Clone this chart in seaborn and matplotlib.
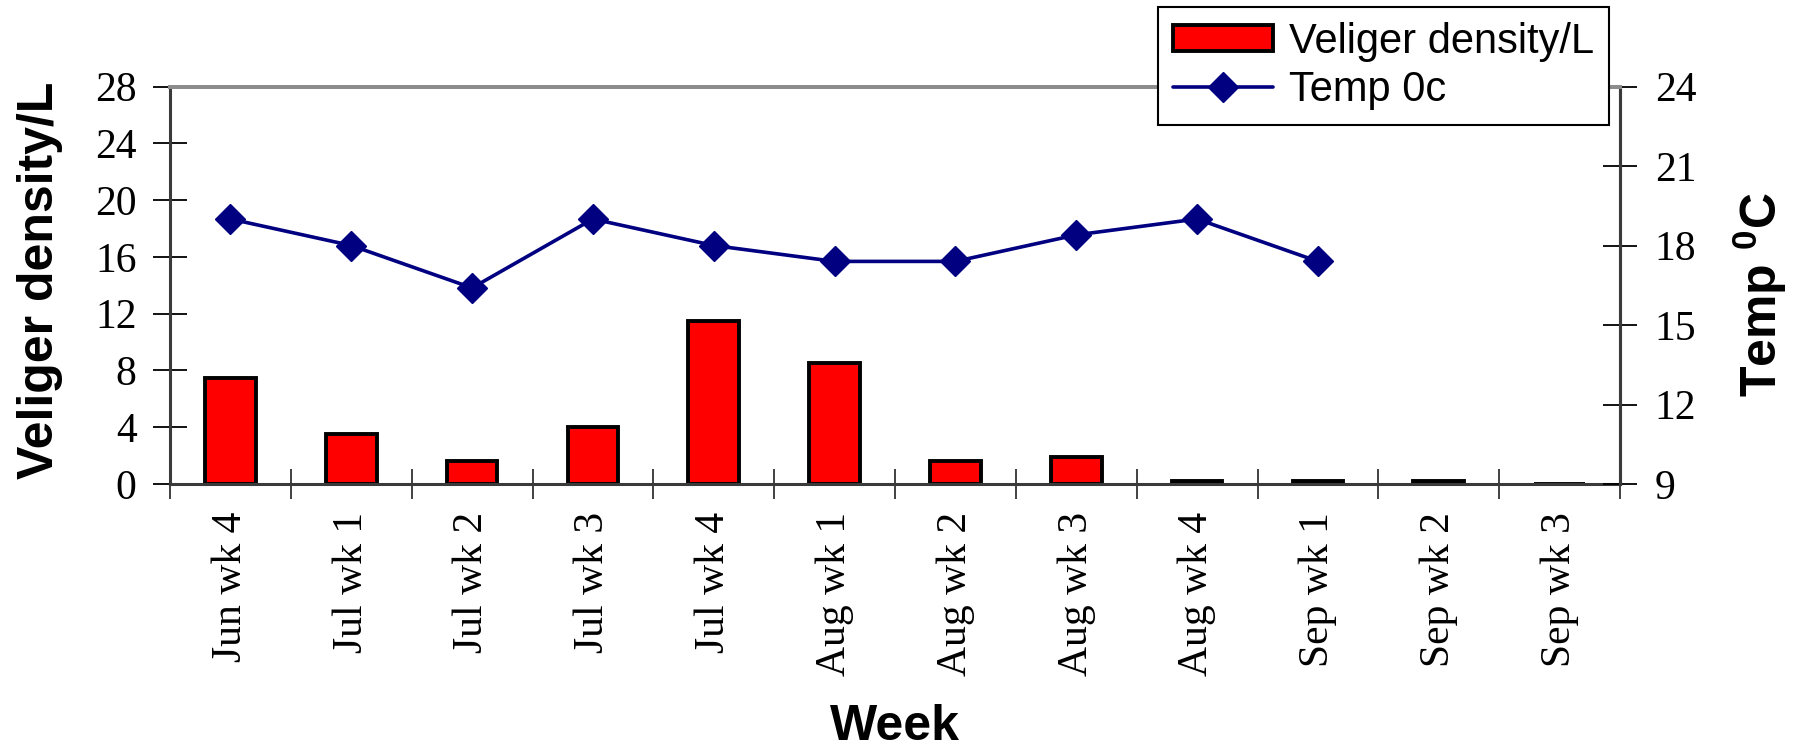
import numpy as np
import pandas as pd
import matplotlib
matplotlib.use("Agg")
import matplotlib.pyplot as plt
from matplotlib.ticker import FixedLocator
import seaborn as sns

# Weekly sampling: veliger density (bars, left axis) and water temperature (line, right axis)
weeks = ["Jun wk 4", "Jul wk 1", "Jul wk 2", "Jul wk 3", "Jul wk 4", "Aug wk 1",
         "Aug wk 2", "Aug wk 3", "Aug wk 4", "Sep wk 1", "Sep wk 2", "Sep wk 3"]
density = [7.5, 3.5, 1.6, 4.0, 11.5, 8.5, 1.6, 1.9, 0.2, 0.2, 0.2, 0.0]
temp = [19.0, 18.0, 16.4, 19.0, 18.0, 17.4, 17.4, 18.4, 19.0, 17.4, np.nan, np.nan]

density_ticks = [0, 4, 8, 12, 16, 20, 24, 28]
temp_ticks = [9, 12, 15, 18, 21, 24]

sns.set_theme(style="white")
plt.rcParams["font.family"] = ["Liberation Serif", "DejaVu Serif"]
plt.rcParams["mathtext.fontset"] = "custom"
plt.rcParams["mathtext.rm"] = "Liberation Sans:bold"
plt.rcParams["mathtext.bf"] = "Liberation Sans:bold"
for key in ("text.color", "axes.labelcolor", "xtick.color", "ytick.color"):
    plt.rcParams[key] = "black"

W, H = 1801, 749
fig = plt.figure(figsize=(W / 100, H / 100), dpi=100)
ax = fig.add_axes([170 / W, 1 - 484 / H, 1450 / W, 397.5 / H])

df = pd.DataFrame({"week": weeks, "density": density, "temp": temp})

sns.barplot(data=df, x="week", y="density", order=weeks, color="#FF0000",
            saturation=1, edgecolor="black", linewidth=2.8, width=0.42,
            label="Veliger density/L", ax=ax, zorder=2)
if ax.get_legend() is not None:
    ax.get_legend().remove()
ax.set_xlim(-0.5, len(weeks) - 0.5)
ax.set_ylim(0, 28)
ax.set_yticks(density_ticks)

ax2 = ax.twinx()
sns.lineplot(x=np.arange(len(weeks)), y=df["temp"], ax=ax2, color="#000080",
             linewidth=2.6, marker="D", markersize=15, markeredgecolor="#000080",
             markeredgewidth=1, label="Temp 0c", legend=False, sort=False)
ax2.set_ylim(9, 24)
ax2.set_yticks(temp_ticks)
ax2.set_xlim(-0.5, len(weeks) - 0.5)

# tick styling
tick_font = 30
ax.tick_params(axis="y", direction="inout", length=24, width=1.3, color="black",
               labelsize=tick_font, labelcolor="black", pad=12, left=True)
ax.tick_params(axis="x", which="major", length=0, labelsize=tick_font,
               labelcolor="black", pad=20, bottom=True)
ax.set_xticks(range(len(weeks)))
ax.set_xticklabels(weeks, rotation=90, va="top", ha="center")
ax.xaxis.set_minor_locator(FixedLocator(np.arange(-0.5, len(weeks), 1.0)))
ax.tick_params(axis="x", which="minor", direction="inout", length=22, width=1.3,
               color="#333333", bottom=True)
ax2.tick_params(axis="y", direction="inout", length=24, width=1.3, color="black",
                labelsize=tick_font, labelcolor="black", pad=13, right=True)

for a in (ax, ax2):
    for side in ("left", "bottom", "right"):
        a.spines[side].set_color("#3a3a3a")
        a.spines[side].set_linewidth(2.2)
    a.spines["top"].set_color("#8c8c8c")
    a.spines["top"].set_linewidth(2.8)
ax2.spines["left"].set_visible(False)
ax2.spines["bottom"].set_visible(False)

label_kw = dict(fontfamily="Liberation Sans", fontweight="bold", fontsize=36,
                color="black")
ax.set_xlabel("Week", va="baseline", **label_kw)
ax.set_ylabel("Veliger density/L", va="baseline", **label_kw)
ax2.set_ylabel(r"Temp $^{\mathbf{0}}$C", rotation=90, va="baseline", **label_kw)
ax.xaxis.set_label_coords(0.5, (484 - 740) / 397.5)
ax.yaxis.set_label_coords((53 - 170) / 1450, 0.512)
ax2.yaxis.set_label_coords((1777 - 170) / 1450, 0.477)

h1, l1 = ax.get_legend_handles_labels()
h2, l2 = ax2.get_legend_handles_labels()
leg = ax2.legend(h1 + h2, l1 + l2, loc="upper left",
                 bbox_to_anchor=(1158 / W, 1 - 7 / H), bbox_transform=fig.transFigure,
                 borderaxespad=0, fancybox=False, frameon=True, framealpha=1,
                 edgecolor="black", prop={"family": "Liberation Sans", "size": 30},
                 handlelength=2.4, handleheight=0.6, handletextpad=0.4,
                 labelspacing=0.2, borderpad=0.35)
leg.get_frame().set_linewidth(1.5)
leg.set_zorder(10)
for t in leg.get_texts():
    t.set_color("black")

fig.savefig("out.png", dpi=100, facecolor="white")
